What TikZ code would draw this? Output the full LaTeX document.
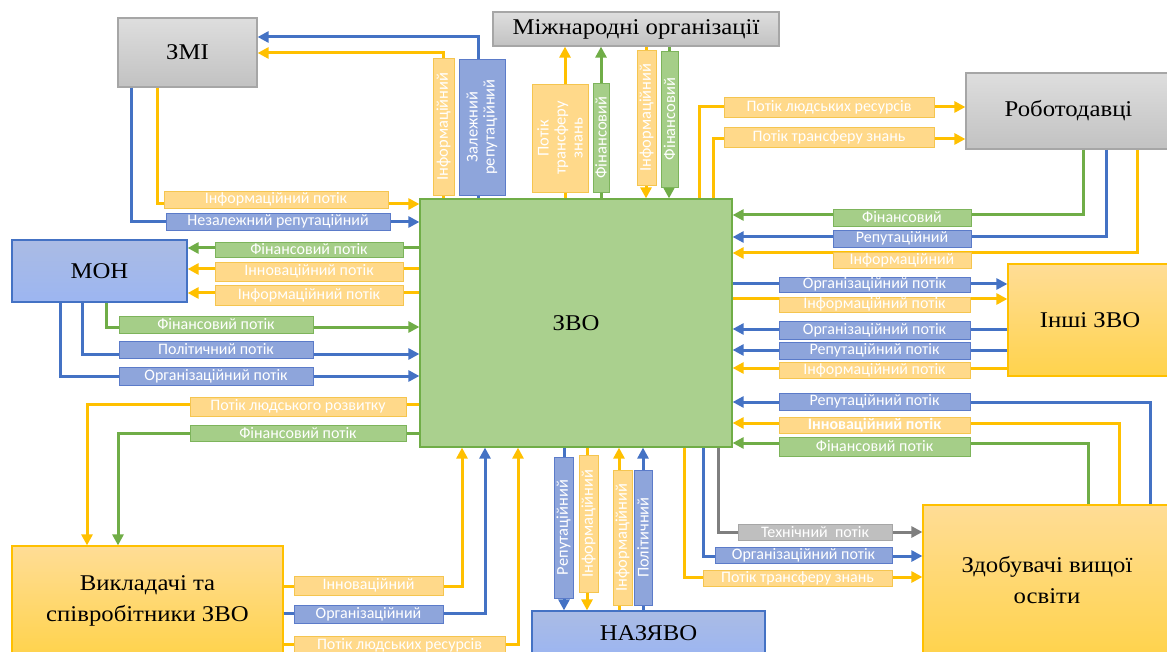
\documentclass[tikz,border=0pt]{standalone}
\usepackage{fontspec}
\setmainfont{Liberation Serif}[FakeStretch=1.1]
\newfontfamily\flowfont{Carlito}
\usetikzlibrary{arrows.meta}

\definecolor{lnBlue}{HTML}{4472C4}
\definecolor{lnYellow}{HTML}{FFC000}
\definecolor{lnGreen}{HTML}{70AD47}
\definecolor{lnGray}{HTML}{7F7F7F}
\definecolor{lbBlue}{HTML}{8EA5DB}
\definecolor{lbBlueDraw}{HTML}{5B7BC9}
\definecolor{lbYellow}{HTML}{FFD98A}
\definecolor{lbYellowDraw}{HTML}{F5C54F}
\definecolor{lbGreen}{HTML}{A5CE88}
\definecolor{lbGreenDraw}{HTML}{7DB45B}
\definecolor{lbGray}{HTML}{BFBFBF}
\definecolor{lbGrayDraw}{HTML}{A6A6A6}

\begin{document}
\begin{tikzpicture}[x=1pt, y=-1pt,
  bigbox/.style={draw, line width=1.2pt, inner sep=2pt, align=center, font=\fontsize{22.5}{31}\selectfont},
  grayBox/.style={bigbox, draw=lbGrayDraw, top color=black!13, bottom color=black!24},
  blueBox/.style={bigbox, draw=lnBlue, top color=lbBlue!75, bottom color=lbBlue!110!black},
  orangeBox/.style={bigbox, draw=lnYellow, top color=lbYellow!90, bottom color=lnYellow!70},
  greenBox/.style={bigbox, draw=lnGreen, fill=lbGreen!95},
  flow/.style={line width=3pt, -{Triangle[length=11pt,width=11pt]}},
  fB/.style={flow, draw=lnBlue},
  fY/.style={flow, draw=lnYellow},
  fG/.style={flow, draw=lnGreen},
  fK/.style={flow, draw=lnGray},
  lbl/.style={draw, line width=0.8pt, inner sep=0pt, text=white, align=center, font=\flowfont\fontsize{16}{17}\selectfont},
  vert/.style={rotate=90, font=\flowfont\fontsize{16.5}{17}\selectfont},
  lB/.style={lbl, fill=lbBlue, draw=lbBlueDraw},
  lY/.style={lbl, fill=lbYellow, draw=lbYellowDraw},
  lG/.style={lbl, fill=lbGreen, draw=lbGreenDraw},
  lK/.style={lbl, fill=lbGray, draw=lbGrayDraw}]
\useasboundingbox (0,0) rectangle (1167,652);

% Nodes
\node[greenBox, minimum width=312pt, minimum height=248pt] (zvo) at (576,323) {ЗВО};
\node[grayBox, minimum width=139pt, minimum height=69pt] (zmi) at (187.5,52.5) {ЗМІ};
\node[grayBox, minimum width=286pt, minimum height=34pt] (mizh) at (636,29) {Міжнародні організації};
\node[grayBox, minimum width=205pt, minimum height=76pt] (robot) at (1068.5,111) {Роботодавці};
\node[blueBox, minimum width=175pt, minimum height=62pt] (mon) at (99.5,271) {МОН};
\node[orangeBox, minimum width=164pt, minimum height=112pt] (inshi) at (1090,320) {Інші ЗВО};
\node[orangeBox, minimum width=271pt, minimum height=109pt] (vykl) at (147.5,600.5) {Викладачі та\\співробітники ЗВО};
\node[blueBox, minimum width=233pt, minimum height=44pt] (naz) at (648.5,633) {НАЗЯВО};
\node[orangeBox, minimum width=248pt, minimum height=150pt] (zdob) at (1047,580) {Здобувачі вищої\\освіти};

% Edges: ZMI
\draw[fB] (zvo.north -| 478,0) |- (zmi.east |- 0,37);
\draw[fY] (zvo.north -| 443,0) |- (zmi.east |- 0,53);
\draw[fY] (zmi.south -| 157,0) |- (zvo.west |- 0,204);
\draw[fB] (zmi.south -| 131,0) |- (zvo.west |- 0,222);
% Edges: international
\draw[fY] (zvo.north -| 565,0) -- (mizh.south -| 565,0);
\draw[fG] (zvo.north -| 601,0) -- (mizh.south -| 601,0);
\draw[fY] (mizh.south -| 646,0) -- (zvo.north -| 646,0);
\draw[fG] (mizh.south -| 669,0) -- (zvo.north -| 669,0);
% Edges: employers
\draw[fY] (zvo.north -| 699,0) |- (robot.west |- 0,107);
\draw[fY] (zvo.north -| 713,0) |- (robot.west |- 0,139);
\draw[fG] (robot.south -| 1083,0) |- (zvo.east |- 0,215);
\draw[fB] (robot.south -| 1106,0) |- (zvo.east |- 0,237);
\draw[fY] (robot.south -| 1137,0) |- (zvo.east |- 0,253);
% Edges: MON
\draw[fG] (zvo.west |- 0,248) -- (mon.east |- 0,248);
\draw[fY] (zvo.west |- 0,269) -- (mon.east |- 0,269);
\draw[fY] (zvo.west |- 0,293) -- (mon.east |- 0,293);
\draw[fG] (mon.south -| 106,0) |- (zvo.west |- 0,327);
\draw[fB] (mon.south -| 82,0) |- (zvo.west |- 0,354);
\draw[fB] (mon.south -| 60,0) |- (zvo.west |- 0,376);
% Edges: staff
\draw[fY] (zvo.west |- 0,404) -| (vykl.north -| 87,0);
\draw[fG] (zvo.west |- 0,433) -| (vykl.north -| 118,0);
\draw[fY] (vykl.east |- 0,586) -| (zvo.south -| 462,0);
\draw[fB] (vykl.east |- 0,613) -| (zvo.south -| 485,0);
\draw[fY] (vykl.east |- 0,644) -| (zvo.south -| 518,0);
% Edges: NAZYAVO
\draw[fB] (zvo.south -| 564,0) -- (naz.north -| 564,0);
\draw[fY] (zvo.south -| 587,0) -- (naz.north -| 587,0);
\draw[fY] (naz.north -| 619,0) -- (zvo.south -| 619,0);
\draw[fB] (naz.north -| 643,0) -- (zvo.south -| 643,0);
% Edges: students
\draw[fK] (zvo.south -| 718,0) |- (zdob.west |- 0,532);
\draw[fB] (zvo.south -| 703,0) |- (zdob.west |- 0,556);
\draw[fY] (zvo.south -| 684,0) |- (zdob.west |- 0,577);
\draw[fG] (zdob.north -| 1088,0) |- (zvo.east |- 0,443);
\draw[fY] (zdob.north -| 1119,0) |- (zvo.east |- 0,423);
\draw[fB] (zdob.north -| 1150,0) |- (zvo.east |- 0,402);
% Edges: other universities
\draw[fB] (zvo.east |- 0,284) -- (inshi.west |- 0,284);
\draw[fY] (zvo.east |- 0,299) -- (inshi.west |- 0,299);
\draw[fB] (inshi.west |- 0,329) -- (zvo.east |- 0,329);
\draw[fB] (inshi.west |- 0,350) -- (zvo.east |- 0,350);
\draw[fY] (inshi.west |- 0,368) -- (zvo.east |- 0,368);

% Labels
\node[lY, minimum width=224pt, minimum height=17pt] (l1) at (276,199.5) {Інформаційний потік};
\node[lB, minimum width=224pt, minimum height=17pt] (l2) at (278,221.5) {Незалежний репутаційний};
\node[lY, vert, minimum width=137pt, minimum height=21pt] (l3) at (443.5,126.5) {Інформаційний};
\node[lB, vert, minimum width=136pt, minimum height=46pt] (l4) at (482,127) {Залежний\\репутаційний};
\node[lY, vert, minimum width=108pt, minimum height=56pt] (l5) at (560,138) {Потік\\трансферу\\знань};
\node[lG, vert, minimum width=109pt, minimum height=16pt] (l6) at (601,137.5) {Фінансовий};
\node[lY, vert, minimum width=135pt, minimum height=19pt] (l7) at (646.5,117.5) {Інформаційний};
\node[lG, vert, minimum width=136pt, minimum height=17pt] (l8) at (669.5,119) {Фінансовий};
\node[lY, minimum width=210pt, minimum height=20pt] (l9) at (829,107) {Потік людських ресурсів};
\node[lY, minimum width=210pt, minimum height=20pt] (l10) at (829,137) {Потік трансферу знань};
\node[lG, minimum width=138pt, minimum height=17pt] (l11) at (902,217.5) {Фінансовий};
\node[lB, minimum width=138pt, minimum height=17pt] (l12) at (902,238.5) {Репутаційний};
\node[lY, minimum width=138pt, minimum height=16pt] (l13) at (902,260.5) {Інформаційний};
\node[lG, minimum width=188pt, minimum height=15pt] (l14) at (309,249.5) {Фінансовий потік};
\node[lY, minimum width=188pt, minimum height=19pt] (l15) at (309,271.5) {Інноваційний потік};
\node[lY, minimum width=188pt, minimum height=20pt] (l16) at (309,295) {Інформаційний потік};
\node[lG, minimum width=194pt, minimum height=17pt] (l17) at (216,324.5) {Фінансовий потік};
\node[lB, minimum width=194pt, minimum height=17pt] (l18) at (216,349.5) {Політичний потік};
\node[lB, minimum width=194pt, minimum height=18pt] (l19) at (216,376) {Організаційний потік};
\node[lY, minimum width=216pt, minimum height=19pt] (l20) at (298,406.5) {Потік людського розвитку};
\node[lG, minimum width=216pt, minimum height=16pt] (l21) at (298,433) {Фінансовий потік};
\node[lY, minimum width=149pt, minimum height=19pt] (l22) at (368.5,585.5) {Інноваційний};
\node[lB, minimum width=149pt, minimum height=18pt] (l23) at (368.5,614) {Організаційний};
\node[lY, minimum width=211pt, minimum height=18pt] (l24) at (399.5,645) {Потік людських ресурсів};
\node[lB, vert, minimum width=141pt, minimum height=19pt] (l25) at (563.5,527.5) {Репутаційний};
\node[lY, vert, minimum width=137pt, minimum height=19pt] (l26) at (588.5,523.5) {Інформаційний};
\node[lY, vert, minimum width=135pt, minimum height=19pt] (l27) at (622.5,537.5) {Інформаційний};
\node[lB, vert, minimum width=135pt, minimum height=18pt] (l28) at (643,537.5) {Політичний};
\node[lK, minimum width=154pt, minimum height=16pt] (l29) at (815,532) {Технічний\ \ потік};
\node[lB, minimum width=177pt, minimum height=16pt] (l30) at (803.5,555) {Організаційний потік};
\node[lY, minimum width=189pt, minimum height=16pt] (l31) at (797.5,578) {Потік трансферу знань};
\node[lG, minimum width=191pt, minimum height=19pt] (l32) at (874.5,446.5) {Фінансовий потік};
\node[lY, minimum width=191pt, minimum height=16pt] (l33) at (874.5,425) {\bfseries Інноваційний потік};
\node[lB, minimum width=191pt, minimum height=17pt] (l34) at (874.5,401.5) {Репутаційний потік};
\node[lB, minimum width=191pt, minimum height=15pt] (l35) at (874.5,284.5) {Організаційний потік};
\node[lY, minimum width=191pt, minimum height=15pt] (l36) at (874.5,304.5) {Інформаційний потік};
\node[lB, minimum width=191pt, minimum height=18pt] (l37) at (874.5,330) {Організаційний потік};
\node[lB, minimum width=191pt, minimum height=17pt] (l38) at (874.5,350.5) {Репутаційний потік};
\node[lY, minimum width=191pt, minimum height=16pt] (l39) at (874.5,370) {Інформаційний потік};
\end{tikzpicture}
\end{document}
